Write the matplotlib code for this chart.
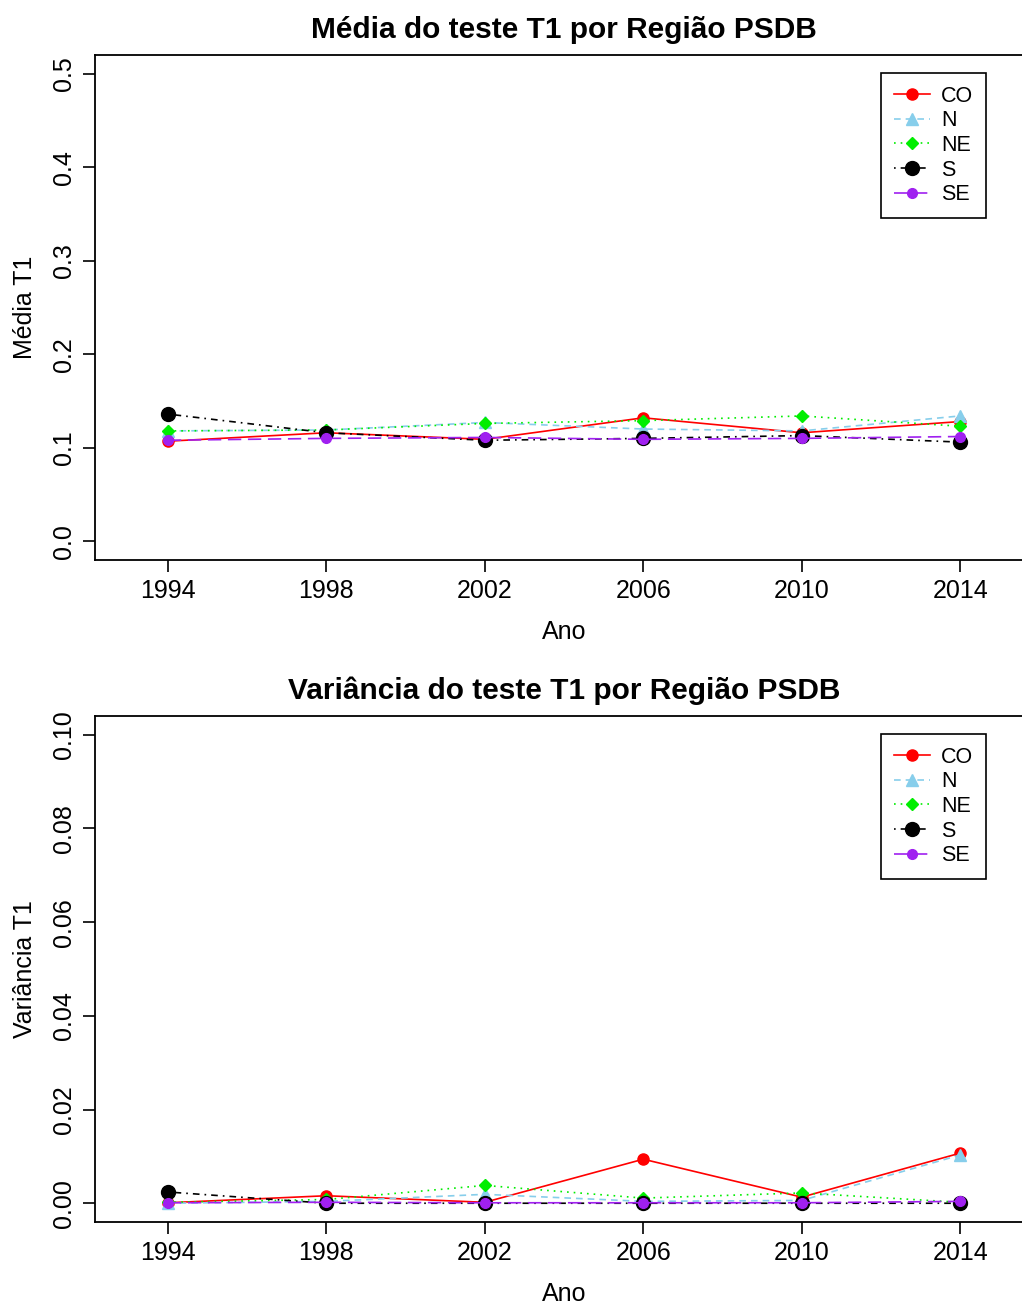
import matplotlib.pyplot as plt
import numpy as np

plt.rcParams['font.family'] = ['Liberation Sans', 'DejaVu Sans']

anos = [1994, 1998, 2002, 2006, 2010, 2014]
regioes = ['CO', 'N', 'NE', 'S', 'SE']

# media do teste T1 por regiao
media_co = [0.107, 0.116, 0.109, 0.132, 0.116, 0.128]
media_n = [0.118, 0.119, 0.127, 0.120, 0.118, 0.134]
media_ne = [0.118, 0.119, 0.126, 0.129, 0.134, 0.123]
media_s = [0.136, 0.116, 0.108, 0.110, 0.113, 0.106]
media_se = [0.108, 0.110, 0.111, 0.109, 0.110, 0.112]

# variancia do teste T1 por regiao
var_co = [0.0001, 0.0016, 0.0002, 0.0094, 0.0013, 0.0107]
var_n = [0.0000, 0.0004, 0.0019, 0.0004, 0.0006, 0.0103]
var_ne = [0.0002, 0.0008, 0.0038, 0.0011, 0.0022, 0.0002]
var_s = [0.0024, 0.0000, 0.0000, 0.0000, 0.0000, 0.0000]
var_se = [0.0001, 0.0002, 0.0001, 0.0001, 0.0001, 0.0004]

estilos = {
    'CO': dict(color='red', ls='-', marker='o', ms=8),
    'N': dict(color='skyblue', ls=(0, (4, 3)), marker='^', ms=9),
    'NE': dict(color='#00ee00', ls=(0, (1, 3)), marker='D', ms=6),
    'S': dict(color='black', ls=(0, (1, 3, 4, 3)), marker='o', ms=10),
    'SE': dict(color='#a020f0', ls=(0, (8, 4)), marker='o', ms=7),
}

fig = plt.figure(figsize=(10.22, 13.04), dpi=100)


def painel(pos, series, titulo, ylabel, ylim, yticks, fmt):
    # a caixa passa um pouco da borda direita da figura
    ax = fig.add_axes(pos)
    for reg, vals in zip(regioes, series):
        st = estilos[reg]
        ax.plot(anos, vals, color=st['color'], linestyle=st['ls'], lw=1.2,
                marker=st['marker'], markersize=st['ms'], label=reg)
    ax.set_xlim(1992.16, 2015.84)
    ax.set_ylim(*ylim)
    ax.set_xticks(anos)
    ax.set_yticks(yticks)
    ax.set_yticklabels([fmt % v for v in yticks], rotation=90, va='center')
    ax.tick_params(labelsize=18, length=8.5, width=1.2)
    ax.tick_params(axis='x', pad=5.5)
    ax.tick_params(axis='y', pad=5)
    for s in ax.spines.values():
        s.set_linewidth(1.3)
    ax.set_title(titulo, fontsize=21.5, fontweight='bold', pad=12)
    ax.set_xlabel('Ano', fontsize=18, labelpad=12)
    ax.set_ylabel(ylabel, fontsize=18, labelpad=11)
    leg = ax.legend(loc='upper left', bbox_to_anchor=(0.838, 0.965), fontsize=15.5,
                    frameon=True, fancybox=False, edgecolor='black', framealpha=1,
                    handlelength=1.65, handletextpad=0.55, labelspacing=0.17,
                    borderpad=0.6, borderaxespad=0)
    leg.get_frame().set_linewidth(1.2)
    return ax


painel([0.093, 0.5706, 0.9178, 0.3872],
       [media_co, media_n, media_ne, media_s, media_se],
       'Média do teste T1 por Região PSDB', 'Média T1',
       (-0.02, 0.52), [0.0, 0.1, 0.2, 0.3, 0.4, 0.5], '%.1f')

painel([0.093, 0.0629, 0.9178, 0.388],
       [var_co, var_n, var_ne, var_s, var_se],
       'Variância do teste T1 por Região PSDB', 'Variância T1',
       (-0.004, 0.104), [0.0, 0.02, 0.04, 0.06, 0.08, 0.10], '%.2f')

fig.savefig('out.png', dpi=100)
